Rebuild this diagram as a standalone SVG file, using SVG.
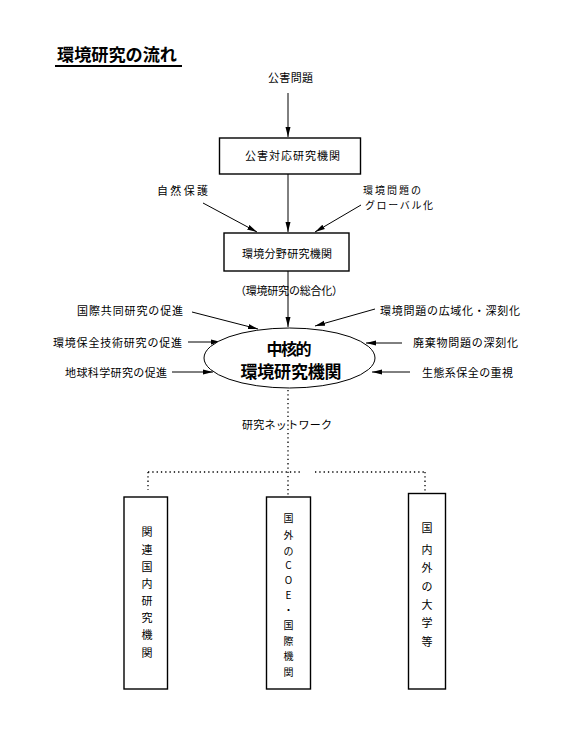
<svg xmlns="http://www.w3.org/2000/svg" width="585" height="739" viewBox="0 0 585 739">
<style>
text{font-family:"Noto Sans CJK JP","Noto Sans CJK SC",sans-serif;fill:#000}
.t{font-size:11px}
.v{font-size:11px;text-anchor:middle}
.box{fill:#fff;stroke:#000;stroke-width:1.4}
.ln{stroke:#000;stroke-width:1;fill:none}
.dot{stroke:#000;stroke-width:1.3;stroke-dasharray:1.3 3;fill:none}
</style>
<defs>
<marker id="ah" viewBox="0 0 10 6" refX="10" refY="3" markerWidth="10" markerHeight="6" orient="auto" markerUnits="userSpaceOnUse">
<path d="M0,0.5 L10,3 L0,5.5 z" fill="#000"/>
</marker>
</defs>
<rect width="585" height="739" fill="#fff"/>
<g id="title">
<text x="57" y="61" font-size="17" font-weight="bold" textLength="120" lengthAdjust="spacingAndGlyphs">環境研究の流れ</text>
<line x1="55" y1="66" x2="182" y2="66" stroke="#000" stroke-width="2"/>
</g>
<g id="labels">
<text class="t" x="268" y="82" textLength="45">公害問題</text>
<text class="t" x="157" y="195" textLength="51">自然保護</text>
<text x="363" y="194" font-size="10" textLength="58">環境問題の</text>
<text x="365" y="209" font-size="10" textLength="68">グローバル化</text>
<text class="t" x="235" y="295" textLength="108">（環境研究の総合化）</text>
<text class="t" x="77" y="315" textLength="106">国際共同研究の促進</text>
<text class="t" x="380" y="315" textLength="140">環境問題の広域化・深刻化</text>
<text class="t" x="53" y="347" textLength="129">環境保全技術研究の促進</text>
<text class="t" x="413" y="347" textLength="105">廃棄物問題の深刻化</text>
<text class="t" x="65" y="377" textLength="102">地球科学研究の促進</text>
<text class="t" x="422" y="377" textLength="91">生態系保全の重視</text>
<text class="t" x="242" y="429" textLength="90">研究ネットワーク</text>
</g>
<g id="connectors">
<line class="ln" x1="288" y1="93" x2="288" y2="137" marker-end="url(#ah)"/>
<line class="ln" x1="288" y1="174" x2="288" y2="232" marker-end="url(#ah)"/>
<line class="ln" x1="203" y1="203" x2="257" y2="232" marker-end="url(#ah)"/>
<line class="ln" x1="361" y1="205" x2="315" y2="232" marker-end="url(#ah)"/>
<line class="ln" x1="288" y1="271" x2="288" y2="327" marker-end="url(#ah)"/>
<line class="ln" x1="192" y1="312" x2="258" y2="329" marker-end="url(#ah)"/>
<line class="ln" x1="375" y1="309" x2="315" y2="326" marker-end="url(#ah)"/>
<line class="ln" x1="188" y1="342" x2="221" y2="342" marker-end="url(#ah)"/>
<line class="ln" x1="402" y1="343" x2="366" y2="343" marker-end="url(#ah)"/>
<line class="ln" x1="172" y1="372" x2="213" y2="372" marker-end="url(#ah)"/>
<line class="ln" x1="410" y1="372" x2="372" y2="372" marker-end="url(#ah)"/>
<line class="dot" x1="288" y1="390" x2="288" y2="495"/>
<line class="dot" x1="148" y1="472" x2="302" y2="472"/>
<line class="dot" x1="315" y1="472" x2="425" y2="472"/>
<line class="dot" x1="148" y1="472" x2="148" y2="490"/>
<line class="dot" x1="425" y1="472" x2="425" y2="492"/>
</g>
<g id="n1">
<rect class="box" x="219.5" y="138" width="141" height="36"/>
<text class="t" x="245" y="160" textLength="95">公害対応研究機関</text>
</g>
<g id="n2">
<rect class="box" x="224" y="233" width="125" height="38"/>
<text class="t" x="242" y="258" textLength="90">環境分野研究機関</text>
</g>
<g id="n3">
<ellipse cx="289.5" cy="358" rx="85.5" ry="30" fill="#fff" stroke="#000" stroke-width="1"/>
<text x="289" y="355" font-size="16" font-weight="bold" text-anchor="middle" textLength="45">中核的</text>
<text x="291" y="378" font-size="17" font-weight="bold" text-anchor="middle" textLength="101">環境研究機関</text>
</g>
<g id="n4">
<rect class="box" x="124" y="497" width="43.5" height="192"/>
<text class="v" x="147" y="536">関</text>
<text class="v" x="147" y="554">連</text>
<text class="v" x="147" y="571">国</text>
<text class="v" x="147" y="588">内</text>
<text class="v" x="147" y="605">研</text>
<text class="v" x="147" y="622">究</text>
<text class="v" x="147" y="639">機</text>
<text class="v" x="147" y="657">関</text>
</g>
<g id="n5">
<rect class="box" x="266.5" y="497" width="44" height="192"/>
<g font-size="10" text-anchor="middle">
<text x="288.5" y="522">国</text>
<text x="288.5" y="539">外</text>
<text x="288.5" y="555">の</text>
<text x="288.5" y="569">C</text>
<text x="288.5" y="584">O</text>
<text x="288.5" y="599">E</text>
<text x="288.5" y="614">・</text>
<text x="288.5" y="629">国</text>
<text x="288.5" y="645">際</text>
<text x="288.5" y="660">機</text>
<text x="288.5" y="676">関</text>
</g>
</g>
<g id="n6">
<rect class="box" x="408.5" y="493.5" width="37" height="195.5"/>
<text class="v" x="427" y="532">国</text>
<text class="v" x="427" y="554">内</text>
<text class="v" x="427" y="572">外</text>
<text class="v" x="427" y="591">の</text>
<text class="v" x="427" y="609">大</text>
<text class="v" x="427" y="627">学</text>
<text class="v" x="427" y="646">等</text>
</g>
</svg>
